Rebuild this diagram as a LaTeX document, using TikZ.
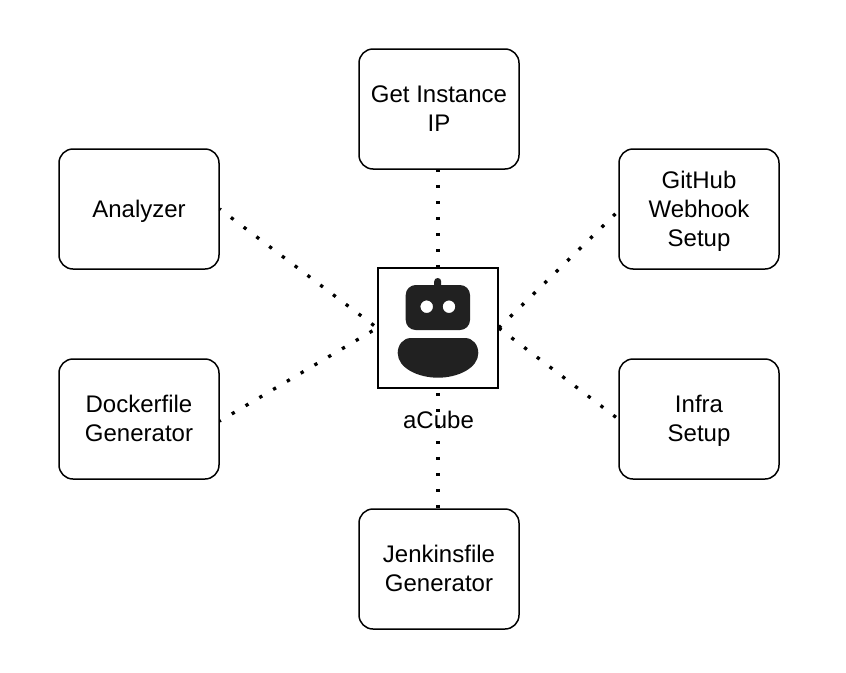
\documentclass[tikz,border=0pt]{standalone}
\usepackage{fontspec}
\setmainfont{Liberation Sans}
\newcommand{\lnstrut}{\rule[-6.5pt]{0pt}{29pt}}
\tikzset{
  x=1pt,y=-1pt,
  task/.style={draw=black,line width=1.5pt,rounded corners=14pt,minimum width=160pt,minimum height=120pt,align=center,font=\fontsize{24}{29}\selectfont,fill=white,inner sep=0pt},
  hub/.style={draw=black,line width=1.5pt,minimum width=120pt,minimum height=120pt,fill=white,inner sep=0pt},
  link/.style={line width=3.3pt,dash pattern=on 3.3pt off 12.7pt},
  ink/.style={fill=black!87}
}
\begin{document}
\begin{tikzpicture}
\useasboundingbox (0,0) rectangle (846,672);
\fill[white] (0,0) rectangle (846,672);
\node[task] (ip) at (439,109) {\lnstrut Get Instance\\\lnstrut IP};
\node[task] (an) at (139,209) {\lnstrut Analyzer};
\node[task] (gh) at (699,209) {\lnstrut GitHub\\\lnstrut Webhook\\\lnstrut Setup};
\node[task] (df) at (139,419) {\lnstrut Dockerfile\\\lnstrut Generator};
\node[task] (inf) at (699,419) {\lnstrut Infra\\\lnstrut Setup};
\node[task] (jf) at (439,569) {\lnstrut Jenkinsfile\\\lnstrut Generator};
\node[hub] (hub) at (438,328) {};
\draw[link,dash phase=1] (ip.south -| hub.north) -- (hub.north);
\draw[link,dash phase=2] (an.east) -- (hub.west);
\draw[link,dash phase=2] ([yshift=-2pt]df.east) -- (hub.west);
\draw[link] (hub.east) -- ([yshift=-2pt]gh.west);
\draw[link] (hub.east) -- (inf.west);
\draw[link,dash phase=12] (hub.south) -- (jf.north -| hub.south);
\node[font=\fontsize{24}{28}\selectfont,inner sep=0pt] (lbl) at (438.5,419.5) {aCube};
% robot icon
\fill[ink,rounded corners=3.4pt] (434.2,292) rectangle (441.2,278);
\fill[ink,even odd rule]
  [rounded corners=10pt] (405.7,285) rectangle (470,330)
  [sharp corners] (426.7,306.7) circle[radius=6.3] (449,306.7) circle[radius=6.3];
\fill[ink] (411,338) -- (465,338) .. controls (473,338) and (478.3,345) .. (478.3,353) .. controls (478.3,368) and (458,377.7) .. (438,377.7) .. controls (418,377.7) and (397.7,368) .. (397.7,353) .. controls (397.7,345) and (403,338) .. (411,338) -- cycle;
\end{tikzpicture}
\end{document}
